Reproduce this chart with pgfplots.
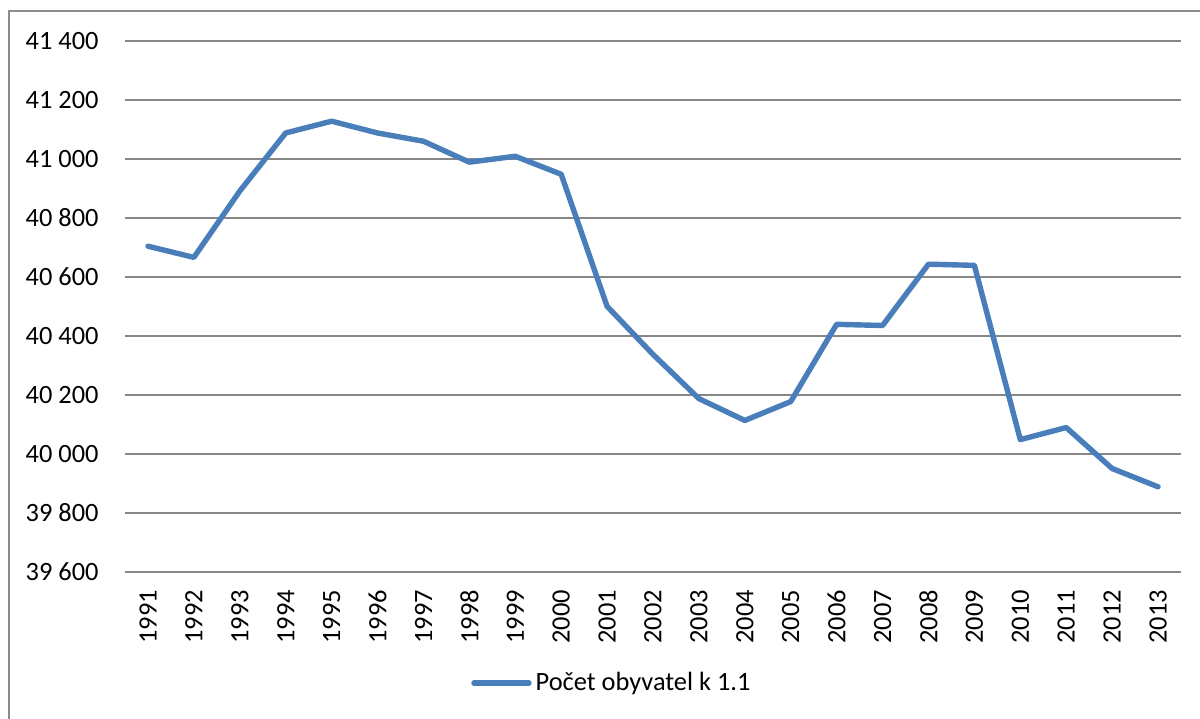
\documentclass[border=0pt]{standalone}
\usepackage{pgfplots}
\pgfplotsset{compat=1.18}
\usepackage{fontspec}
\setmainfont{Carlito}
\definecolor{serie}{HTML}{4A7EBB}
\definecolor{gridc}{HTML}{868686}
\definecolor{framec}{HTML}{8C8C8C}
\begin{document}
\begin{tikzpicture}[x=0.5pt,y=0.5pt]
\path[use as bounding box] (0,0) rectangle (1200,718);
\draw[framec, line width=1pt] (9,-10) -- (9,707) -- (1210,707);
\begin{axis}[
  at={(62.5pt,73.15pt)}, anchor=south west,
  scale only axis, width=528pt, height=265.35pt,
  xmin=-0.5, xmax=22.5, ymin=39600, ymax=41400,
  ytick={39600,39800,...,41400},
  scaled y ticks=false,
  xtick={0,...,22},
  xticklabels={1991,1992,1993,1994,1995,1996,1997,1998,1999,2000,2001,2002,2003,2004,2005,2006,2007,2008,2009,2010,2011,2012,2013},
  ymajorgrids, grid style={gridc, line width=1pt},
  axis line style={draw=none},
  major tick length=0pt,
  tick label style={font=\fontsize{13.2}{15}\selectfont},
  yticklabel={\pgfmathprintnumber[fixed,precision=0,1000 sep={\ },assume math mode=true]{\tick}},
  yticklabel style={anchor=east, inner sep=0pt},
  yticklabel shift=13pt,
  xticklabel style={rotate=90, anchor=east, inner sep=0pt},
  xticklabel shift=9pt,
  legend style={at={(0.462,-0.21)}, anchor=center, draw=none, fill=none,
    font=\fontsize{13.2}{15}\selectfont, inner sep=0pt},
  legend cell align=left,
  legend image code/.code={\draw[#1] (0pt,0pt) -- (27.5pt,0pt);},
]
\addplot[serie, line width=2.7pt, line join=round, line cap=round] coordinates {
(0,40704) (1,40666) (2,40891) (3,41088) (4,41128) (5,41088) (6,41060)
(7,40989) (8,41009) (9,40948) (10,40500) (11,40337) (12,40187) (13,40113)
(14,40177) (15,40439) (16,40435) (17,40643) (18,40639) (19,40048) (20,40089)
(21,39950) (22,39888)};
\addlegendentry{Počet obyvatel k 1.1}
\end{axis}
\end{tikzpicture}
\end{document}
